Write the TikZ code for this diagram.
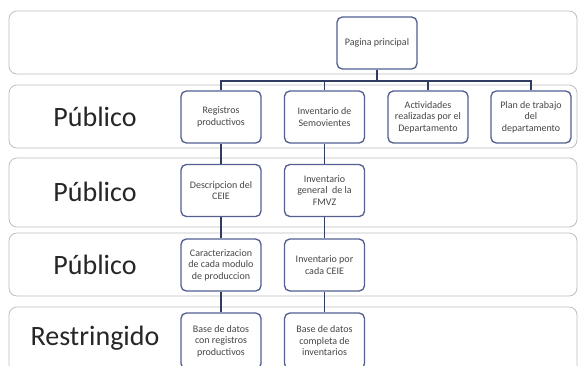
\documentclass[tikz,border=0pt]{standalone}
\usepackage{fontspec}
\setmainfont{Carlito}
\usetikzlibrary{calc}
\definecolor{bandline}{RGB}{190,190,190}
\definecolor{boxline}{RGB}{84,96,146}
\definecolor{linkline}{RGB}{48,60,98}
\definecolor{boxtext}{RGB}{70,70,70}

\tikzset{
  band/.style={draw=bandline, line width=0.6pt, fill=white, rounded corners=6pt},
  box/.style={draw=boxline, line width=1pt, fill=white, rounded corners=4pt,
    minimum width=60pt, minimum height=39pt, align=center, inner sep=1pt,
    text=boxtext, font=\fontsize{7.5}{8.6}\selectfont},
  levelname/.style={font=\fontsize{21}{24}\selectfont, text=black!85},
  link/.style={draw=linkline, line width=1.1pt}
}

\begin{document}
\begin{tikzpicture}[x=0.75pt, y=-0.75pt]
		%%%%% START %%%%%
		\useasboundingbox (0,0) rectangle (579,365);
		\clip (0,0) rectangle (579,365);
		
		% bands
		\draw[band] (9,11) rectangle (577,74);
		\draw[band] (9,85) rectangle (577,148);
		\draw[band] (9,158) rectangle (577,227);
		\draw[band] (9,233) rectangle (577,296);
		\draw[band] (9,307) rectangle (577,385);
		
		\node[levelname] (pub1) at (95,117) {Público};
		\node[levelname] (pub2) at (95,192) {Público};
		\node[levelname] (pub3) at (95,265) {Público};
		\node[levelname] (restr) at (95,338) {Restringido};
		
		% top
		\node[box] (main) at (377,43) {Pagina principal};
		\coordinate (bar) at (377,81);
		
		% first row
		\node[box] (reg) at (221,117) {Registros\\productivos};
		\node[box] (inv) at (324.5,117) {Inventario de\\Semovientes};
		\node[box] (act) at (428,117) {Actividades\\realizadas por el\\Departamento};
		\node[box] (plan) at (531,117) {Plan de trabajo\\del\\departamento};
		
		% second row
		\node[box] (desc) at (221,190.5) {Descripcion del\\CEIE};
		\node[box] (invg) at (324.5,190.5) {Inventario\\general\ \ de la\\FMVZ};
		
		% third row
		\node[box] (carac) at (221,265) {Caracterizacion\\de cada modulo\\de produccion};
		\node[box] (invc) at (324.5,265) {Inventario por\\cada CEIE};
		
		% fourth row
		\node[box, minimum height=42pt] (bdreg) at (221,341) {Base de datos\\con registros\\productivos};
		\node[box, minimum height=42pt] (bdinv) at (324.5,341) {Base de datos\\completa de\\inventarios};
		
		\foreach \n in {reg,inv,act,plan}
			\draw[link] (main.south) |- (\n.north |- bar) -- (\n.north);
		
		\draw[link] (reg) -- (desc);
		\draw[link] (desc) -- (carac);
		\draw[link] (carac) -- (bdreg);
		\draw[link] (inv) -- (invg);
		\draw[link] (invg) -- (invc);
		\draw[link] (invc) -- (bdinv);
		%%%%% END %%%%%
\end{tikzpicture}
\end{document}
